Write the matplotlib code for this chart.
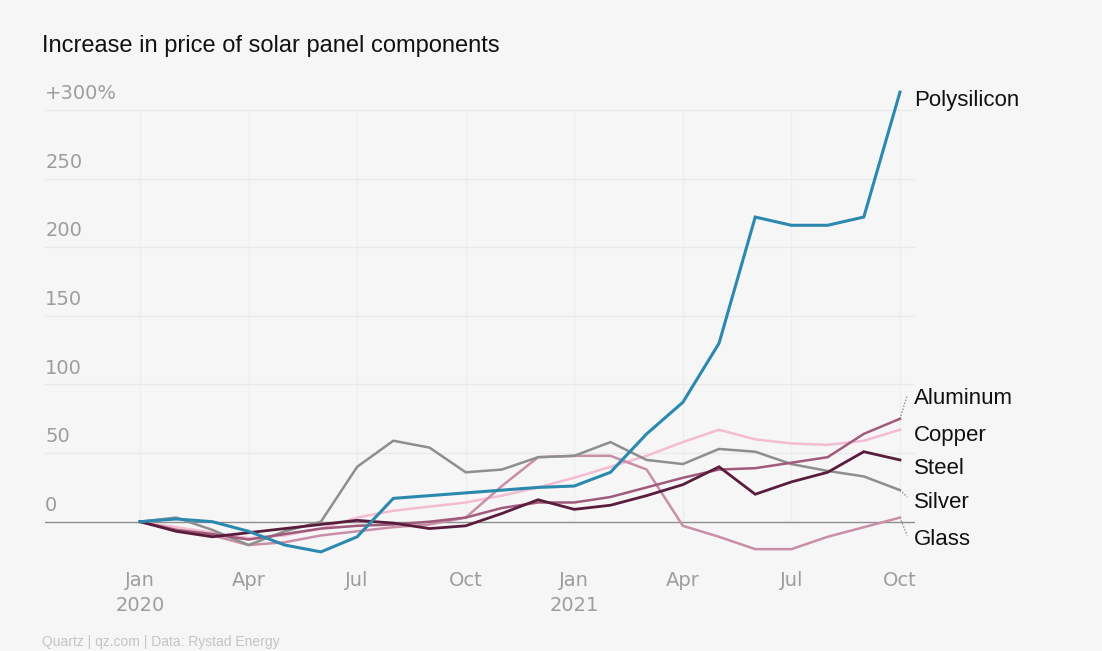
import numpy as np
import matplotlib.pyplot as plt

# monthly values, Jan 2020 .. Oct 2021, % change since Jan 2020
months = ["2020-01", "2020-02", "2020-03", "2020-04", "2020-05", "2020-06",
          "2020-07", "2020-08", "2020-09", "2020-10", "2020-11", "2020-12",
          "2021-01", "2021-02", "2021-03", "2021-04", "2021-05", "2021-06",
          "2021-07", "2021-08", "2021-09", "2021-10"]

polysilicon = [0, 2, 0, -7, -17, -22, -11, 17, 19, 21, 23, 25,
               26, 36, 64, 87, 130, 222, 216, 216, 222, 313]
silver = [0, 3, -6, -17, -7, 0, 40, 59, 54, 36, 38, 47,
          48, 58, 45, 42, 53, 51, 42, 37, 33, 23]
copper = [0, -4, -8, -12, -10, -5, 3, 8, 11, 14, 19, 25,
          32, 40, 48, 58, 67, 60, 57, 56, 59, 67]
glass = [0, -6, -10, -17, -15, -10, -7, -4, -2, 3, 26, 47,
         48, 48, 38, -3, -11, -20, -20, -11, -4, 3]
aluminum = [0, -6, -9, -13, -9, -5, -3, -2, 0, 3, 10, 14,
            14, 18, 25, 32, 38, 39, 43, 47, 64, 75]
steel = [0, -7, -11, -8, -5, -2, 1, -1, -5, -3, 6, 16,
         9, 12, 19, 27, 40, 20, 29, 36, 51, 45]

tick_pos = [0, 3, 6, 9, 12, 15, 18, 21]
tick_labels = ["Jan\n2020", "Apr", "Jul", "Oct", "Jan\n2021", "Apr", "Jul", "Oct"]
y_ticks = [0, 50, 100, 150, 200, 250, 300]
y_labels = ["0", "50", "100", "150", "200", "250", "+300%"]

BG = "#f6f6f6"
TICK = "#9d9d9d"

fig = plt.figure(figsize=(11.02, 6.51), dpi=100, facecolor=BG)
ax = fig.add_axes([45 / 1102, 1 - 565 / 651, 870 / 1102, 460 / 651])
ax.set_facecolor(BG)
ax.set_xlim(-2.625, 21.415)
ax.set_ylim(-31.55, 303.65)
for s in ax.spines.values():
    s.set_visible(False)

x = np.arange(len(months))

# faint grid
for v in y_ticks[1:]:
    ax.axhline(v, color="#e9e9e9", lw=0.9, zorder=0)
for t in tick_pos:
    ax.plot([t, t], [0, 300], color="#eeeeee", lw=0.9, zorder=0)
ax.axhline(0, color="#8f8f8f", lw=1.0, zorder=1)

series = [
    ("Copper", copper, "#f3bcd3", 1.8),
    ("Glass", glass, "#c98ea8", 1.8),
    ("Silver", silver, "#8e8e8e", 1.8),
    ("Aluminum", aluminum, "#a05a7c", 1.8),
    ("Steel", steel, "#5a1c3c", 2.0),
    ("Polysilicon", polysilicon, "#2b88ae", 2.2),
]
for name, vals, color, lw in series:
    ax.plot(x, vals, color=color, lw=lw, zorder=3, solid_joinstyle="miter",
            clip_on=False)

# end labels
label_y = {"Polysilicon": 307, "Aluminum": 90, "Copper": 63,
           "Steel": 39, "Silver": 14, "Glass": -13}
for name, vals, color, lw in series:
    ax.text(21.39, label_y[name], name, fontsize=16, va="center", ha="left",
            family="Liberation Sans", color="#111111", clip_on=False)
# dotted leaders
ax.plot([21, 21.2], [aluminum[-1], 92], color="#777777", lw=0.9, ls=(0, (1, 1.5)))
ax.plot([21, 21.2], [silver[-1], 18], color="#777777", lw=0.9, ls=(0, (1, 1.5)))
ax.plot([21, 21.2], [glass[-1], -10], color="#777777", lw=0.9, ls=(0, (1, 1.5)))

# y labels sit above the gridlines
for v, lab in zip(y_ticks, y_labels):
    ax.text(-2.62, v + 5, lab, fontsize=14, color=TICK, ha="left", va="bottom",
            family="DejaVu Sans")

ax.set_yticks([])
ax.set_xticks(tick_pos)
ax.set_xticklabels(tick_labels, fontsize=14, color=TICK, linespacing=1.45,
                   family="DejaVu Sans")
ax.tick_params(axis="x", length=0, pad=4)

fig.text(42 / 1102, 1 - 46 / 651, "Increase in price of solar panel components",
         fontsize=17, va="center", ha="left", family="Liberation Sans", color="#111111")
fig.text(42 / 1102, 1 - 642 / 651, "Quartz | qz.com | Data: Rystad Energy",
         fontsize=10, va="center", ha="left", family="Liberation Sans", color="#c4c4c4")

fig.savefig("out.png", dpi=100, facecolor=BG)
